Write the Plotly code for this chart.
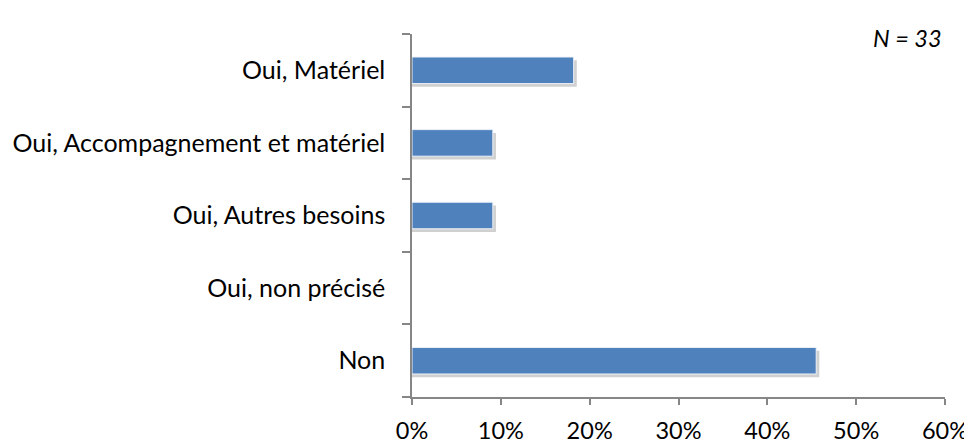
import plotly.graph_objects as go

categories = ["Non", "Oui, non précisé", "Oui, Autres besoins",
              "Oui, Accompagnement et matériel", "Oui, Matériel"]
values = [0.455, 0.0, 0.091, 0.091, 0.182]
x_ticks = [0, 0.1, 0.2, 0.3, 0.4, 0.5, 0.6]
x_tick_labels = ["0%", "10%", "20%", "30%", "40%", "50%", "60%"]
note = "N = 33"

bar_w = 0.366
shadow_x = [v + 0.0035 if v > 0 else None for v in values]
bar_x = [v if v > 0 else None for v in values]

fig = go.Figure()
fig.add_trace(go.Bar(
    y=categories, x=shadow_x, orientation="h",
    width=bar_w, offset=-bar_w / 2 - 0.045,
    marker=dict(color="rgba(120,120,120,0.35)", line=dict(width=0)),
    hoverinfo="skip", showlegend=False,
))
fig.add_trace(go.Bar(
    y=categories, x=bar_x, orientation="h",
    width=bar_w, offset=-bar_w / 2,
    marker=dict(color="#4F81BD", line=dict(color="#EEF2F8", width=1)),
    showlegend=False,
))

axis_color = "#868686"
font_family = "Lato, Calibri, sans-serif"
fig.update_layout(
    width=964, height=438,
    margin=dict(l=404, r=27, t=26, b=49),
    paper_bgcolor="white", plot_bgcolor="white",
    barmode="overlay",
    font=dict(family=font_family, size=24, color="#000000"),
    xaxis=dict(
        range=[0, 0.6], tickvals=x_ticks, ticktext=x_tick_labels,
        showgrid=False, zeroline=False, showline=True, linecolor=axis_color,
        linewidth=1.5, ticks="outside", ticklen=6, tickcolor=axis_color,
        tickwidth=1.5, automargin=False, ticklabelstandoff=6,
        tickfont=dict(size=23.5),
    ),
    yaxis=dict(
        categoryorder="array", categoryarray=categories,
        range=[-0.5, 4.5], tickson="boundaries",
        showgrid=False, zeroline=False, showline=True, linecolor=axis_color,
        linewidth=1.5, ticks="outside", ticklen=8, tickcolor=axis_color,
        tickwidth=1.5, ticklabelstandoff=20, automargin=False,
        tickfont=dict(size=25),
    ),
    annotations=[dict(
        text="<i>" + note + "</i>", xref="paper", yref="paper", x=1.0, y=1.0,
        xanchor="right", yanchor="middle", showarrow=False,
        font=dict(size=23.5, family=font_family),
        yshift=-4, xshift=-1,
    )],
)

fig.write_html("out.html")
